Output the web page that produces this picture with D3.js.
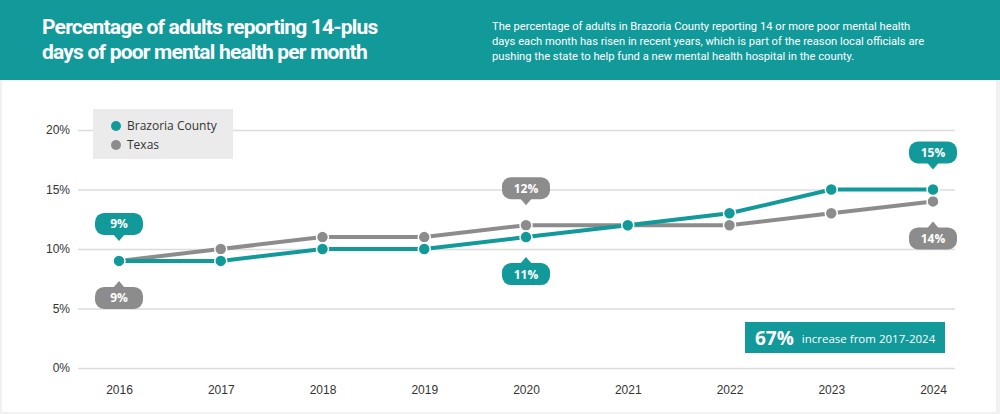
<!DOCTYPE html>
<html><head><meta charset="utf-8">
<script src="https://cdn.jsdelivr.net/npm/d3@7"></script>
<style>
body{margin:0;background:#f1f1f1;font-family:"Open Sans",sans-serif;}
</style></head>
<body><div id="chart"></div>
<script>
const years = [2016, 2017, 2018, 2019, 2020, 2021, 2022, 2023, 2024];
const brazoria = [9, 9, 10, 10, 11, 12, 13, 15, 15];
const texas = [9, 10, 11, 11, 12, 12, 12, 13, 14];
const yTicks = [0, 5, 10, 15, 20];
// callouts: [series, yearIndex, above?]
const callouts = [["b", 0, true], ["t", 0, false], ["t", 4, true], ["b", 4, false], ["b", 8, true], ["t", 8, false]];

const teal = "#12999a", gray = "#8c8c8c";
const W = 1000, H = 414;
const svg = d3.select("#chart").append("svg").attr("width", W).attr("height", H);

svg.append("rect").attr("width", W).attr("height", H).attr("fill", "#f1f1f1");
svg.append("rect").attr("x", 2).attr("y", 80).attr("width", 994).attr("height", 332).attr("fill", "#fff");
svg.append("rect").attr("width", W).attr("height", 80).attr("fill", teal);

const title = svg.append("text").attr("x", 42).attr("y", 34).attr("fill", "#fff")
  .style("font-family", "Roboto").style("font-weight", "bold").style("font-size", "21px").style("letter-spacing", "-0.8px");
title.append("tspan").attr("x", 42).text("Percentage of adults reporting 14-plus");
title.append("tspan").attr("x", 42).attr("dy", 25).text("days of poor mental health per month");

const desc = svg.append("text").attr("fill", "#fff").style("font-family", "Roboto").style("font-size", "11.2px");
["The percentage of adults in Brazoria County reporting 14 or more poor mental health",
 "days each month has risen in recent years, which is part of the reason local officials are",
 "pushing the state to help fund a new mental health hospital in the county."]
  .forEach((l, i) => desc.append("tspan").attr("x", 492).attr("y", 30 + i * 15).text(l));

const x = d3.scaleLinear().domain([2016, 2024]).range([119, 933]);
const y = d3.scaleLinear().domain([0, 20]).range([368, 130]);

const yAxis = d3.axisLeft(y).tickValues(yTicks).tickSize(-877).tickFormat(d => d + "%").tickPadding(8);
const gy = svg.append("g").attr("transform", "translate(78,0)").call(yAxis);
gy.select(".domain").remove();
gy.selectAll("line").attr("stroke", "#dcdcdc").attr("stroke-width", 1.5);
gy.selectAll("text").attr("fill", "#333").style("font-size", "12px");

const xAxis = d3.axisBottom(x).tickValues(years).tickFormat(d3.format("d")).tickSize(0).tickPadding(10);
const gx = svg.append("g").attr("transform", "translate(0,375)").call(xAxis);
gx.select(".domain").remove();
gx.selectAll("text").attr("fill", "#333").style("font-size", "12px");

// legend
svg.append("rect").attr("x", 93).attr("y", 109).attr("width", 140).attr("height", 50).attr("fill", "#ebebeb");
[["Brazoria County", teal], ["Texas", gray]].forEach(([n, c], i) => {
  svg.append("circle").attr("cx", 116).attr("cy", 126 + i * 19).attr("r", 5).attr("fill", c);
  svg.append("text").attr("x", 127).attr("y", 130 + i * 19).attr("fill", "#333").style("font-size", "12px").text(n);
});

const line = d3.line().x((d, i) => x(years[i])).y(d => y(d));
[[texas, gray], [brazoria, teal]].forEach(([s, c]) => {
  svg.append("path").datum(s).attr("d", line).attr("fill", "none").attr("stroke", c).attr("stroke-width", 4);
  svg.selectAll(null).data(s).enter().append("circle")
    .attr("cx", (d, i) => x(years[i])).attr("cy", d => y(d)).attr("r", 6)
    .attr("fill", c).attr("stroke", "#fff").attr("stroke-width", 1.5);
});

// callouts
callouts.forEach(([k, i, above]) => {
  const s = k === "b" ? brazoria : texas, c = k === "b" ? teal : gray;
  const px = x(years[i]), py = y(s[i]);
  const cy = above ? py - 37 : py + 37;
  const tipY = above ? cy + 17 : cy - 17;
  const baseY = above ? cy + 10 : cy - 10;
  const g = svg.append("g");
  g.append("rect").attr("x", px - 24).attr("y", cy - 11).attr("width", 48).attr("height", 22).attr("rx", 9).attr("fill", c);
  g.append("path").attr("d", `M${px - 6},${baseY}L${px},${tipY}L${px + 6},${baseY}Z`).attr("fill", c);
  g.append("text").attr("x", px).attr("y", cy + 4.5).attr("text-anchor", "middle").attr("fill", "#fff")
    .style("font-size", "12px").style("font-weight", "bold").text(s[i] + "%");
});

// annotation
svg.append("rect").attr("x", 745).attr("y", 322).attr("width", 200).attr("height", 31).attr("fill", teal);
const ann = svg.append("text").attr("x", 755).attr("y", 345).attr("fill", "#fff");
ann.append("tspan").style("font-size", "19px").style("font-weight", "bold").text("67%");
ann.append("tspan").attr("dx", 8).style("font-size", "11.5px").attr("dy", -2).text("increase from 2017-2024");
</script></body></html>
